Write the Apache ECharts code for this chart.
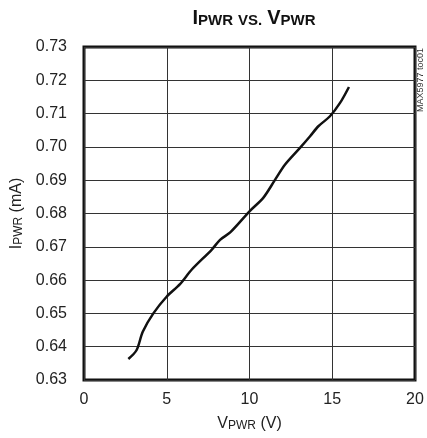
<!DOCTYPE html>
<html><head><meta charset="utf-8">
<script src="https://cdn.jsdelivr.net/npm/echarts@6/dist/echarts.min.js"></script>
<style>html,body{margin:0;padding:0;background:#fff}#c{width:427px;height:438px}</style>
</head><body><div id="c"></div>
<script>
const vpwr = [2.68, 3.18, 3.55, 4.19, 4.99, 5.80, 6.50, 7.71, 8.22, 8.85, 10.03, 10.83, 11.54, 12.15, 13.05, 13.66, 14.16, 14.86, 15.47, 16.01];
const ipwr = [0.6363, 0.6390, 0.6445, 0.6500, 0.6550, 0.6588, 0.6631, 0.6691, 0.6721, 0.6744, 0.6808, 0.6847, 0.6901, 0.6947, 0.6997, 0.7032, 0.7062, 0.7092, 0.7132, 0.7180];
const xTicks = [0, 5, 10, 15, 20];
const yTicks = [0.63, 0.64, 0.65, 0.66, 0.67, 0.68, 0.69, 0.70, 0.71, 0.72, 0.73];

const TFONT = '"Liberation Sans Narrow", "Liberation Sans", Arial, sans-serif';
const chart = echarts.init(document.getElementById('c'));
chart.setOption({
  animation: false,
  title: {
    text: '{b|I}{s|PWR} {s|VS.} {b|V}{s|PWR}',
    left: 249, top: 3, textAlign: 'center',
    textStyle: {
      rich: {
        b: {fontFamily: TFONT, fontWeight: 900, fontSize: 20, color: '#111'},
        s: {fontFamily: TFONT, fontWeight: 900, fontSize: 15, color: '#111', verticalAlign: 'bottom'}
      }
    }
  },
  grid: {left: 84, right: 12, top: 47, bottom: 58, show: true, borderColor: '#111', borderWidth: 3, containLabel: false},
  xAxis: {
    type: 'value', min: xTicks[0], max: xTicks[xTicks.length-1], interval: 5,
    axisLine: {show: false}, axisTick: {show: false},
    splitLine: {show: true, lineStyle: {color: '#333', width: 1}},
    axisLabel: {fontFamily: TFONT, fontSize: 16, color: '#222', margin: 12},
    name: '{n|V}{s|PWR}{n| (V)}', nameLocation: 'middle', nameGap: 36,
    nameTextStyle: {rich: {n: {fontFamily: TFONT, fontSize: 16, color: '#222'}, s: {fontFamily: TFONT, fontSize: 12, color: '#222', verticalAlign: 'bottom'}}}
  },
  yAxis: {
    type: 'value', min: yTicks[0], max: yTicks[yTicks.length-1], interval: 0.01,
    axisLine: {show: false}, axisTick: {show: false},
    splitLine: {show: true, lineStyle: {color: '#333', width: 1}},
    axisLabel: {fontFamily: TFONT, fontSize: 16, color: '#222', margin: 17, formatter: v => v.toFixed(2)},
    name: '{n|I}{s|PWR}{n| (mA)}', nameLocation: 'middle', nameGap: 56, nameRotate: 90,
    nameTextStyle: {rich: {n: {fontFamily: TFONT, fontSize: 16, color: '#222'}, s: {fontFamily: TFONT, fontSize: 12, color: '#222', verticalAlign: 'bottom'}}}
  },
  graphic: [{
    type: 'text', x: 421, y: 112, rotation: Math.PI/2,
    style: {text: 'MAX5977 toc01', fontFamily: TFONT, fontSize: 9, fill: '#333', textAlign: 'left', textVerticalAlign: 'middle'}
  }],
  series: [{
    type: 'line', data: vpwr.map((v, i) => [v, ipwr[i]]), smooth: 0.3, showSymbol: false,
    lineStyle: {color: '#111', width: 2.5}
  }]
});
</script></body></html>
